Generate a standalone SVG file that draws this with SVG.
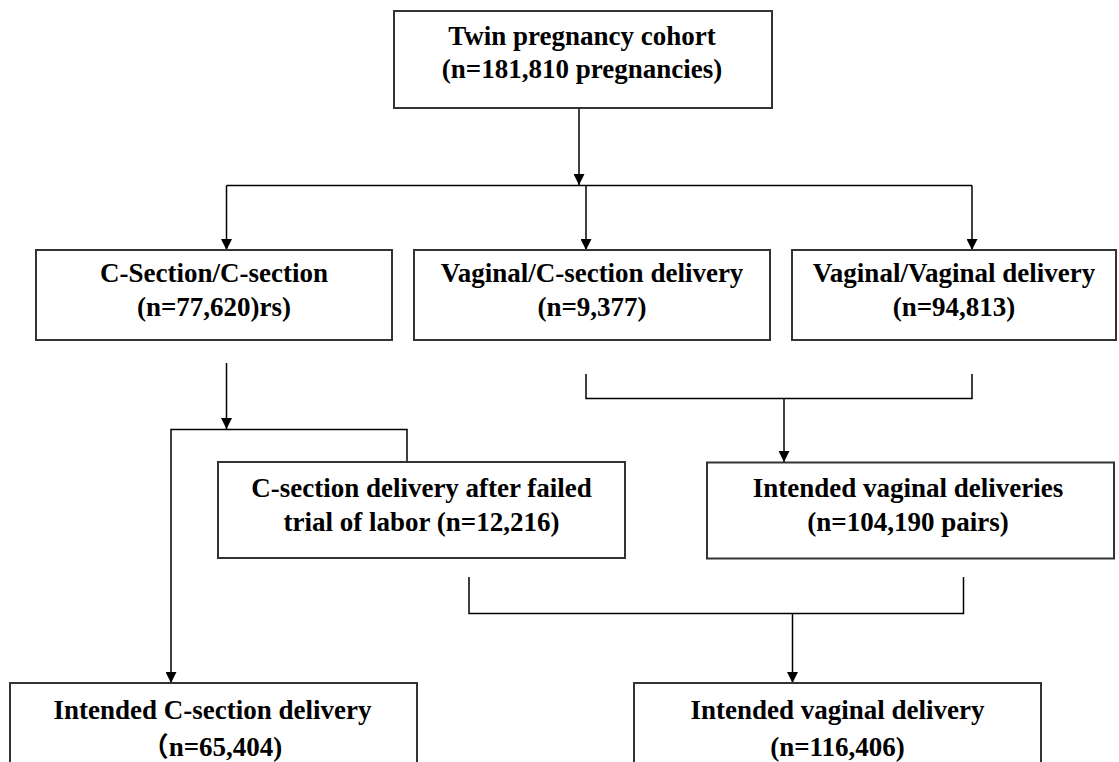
<svg xmlns="http://www.w3.org/2000/svg" width="1119" height="762" viewBox="0 0 1119 762">
<style>
.box{fill:#fff;stroke:#333;stroke-width:2}
.t{font-family:"Liberation Serif","Noto Sans CJK SC",serif;font-weight:bold;font-size:27px;fill:#000;text-anchor:middle}
.ln{fill:none;stroke:#000;stroke-width:1.5}
</style>
<defs>
<marker id="ah" markerWidth="11" markerHeight="11" refX="11" refY="5.5" orient="auto" markerUnits="userSpaceOnUse">
<path d="M0,0 L11,5.5 L0,11 Z" fill="#000"/>
</marker>
</defs>
<rect width="1119" height="762" fill="#fff"/>
<g id="connectors">
<line class="ln" x1="579" y1="108" x2="579" y2="185" marker-end="url(#ah)"/>
<line class="ln" x1="226.5" y1="185.5" x2="972" y2="185.5"/>
<line class="ln" x1="226.5" y1="185.5" x2="226.5" y2="250" marker-end="url(#ah)"/>
<line class="ln" x1="586" y1="185.5" x2="586" y2="250" marker-end="url(#ah)"/>
<line class="ln" x1="972" y1="185.5" x2="972" y2="250" marker-end="url(#ah)"/>
<line class="ln" x1="226.5" y1="363" x2="226.5" y2="429" marker-end="url(#ah)"/>
<polyline class="ln" points="407,462 407,429.5 171,429.5 171,683" marker-end="url(#ah)"/>
<polyline class="ln" points="586,374 586,398.5 972,398.5 972,374"/>
<line class="ln" x1="784" y1="398.5" x2="784" y2="462" marker-end="url(#ah)"/>
<polyline class="ln" points="469,577 469,613.5 963.5,613.5 963.5,577"/>
<line class="ln" x1="792.5" y1="613.5" x2="792.5" y2="683" marker-end="url(#ah)"/>
</g>
<g id="n-cohort">
<rect class="box" x="394" y="11" width="378" height="97"/>
<text class="t" x="582" y="45">Twin pregnancy cohort</text>
<text class="t" x="582" y="78">(n=181,810 pregnancies)</text>
</g>
<g id="n-cc">
<rect class="box" x="36" y="250" width="356" height="90"/>
<text class="t" x="214" y="282">C-Section/C-section</text>
<text class="t" x="214" y="316">(n=77,620)rs)</text>
</g>
<g id="n-vc">
<rect class="box" x="414" y="250" width="356" height="90"/>
<text class="t" x="592" y="282">Vaginal/C-section delivery</text>
<text class="t" x="592" y="316">(n=9,377)</text>
</g>
<g id="n-vv">
<rect class="box" x="792" y="250" width="324" height="90"/>
<text class="t" x="954" y="282">Vaginal/Vaginal delivery</text>
<text class="t" x="954" y="316">(n=94,813)</text>
</g>
<g id="n-failed">
<rect class="box" x="218" y="462" width="407" height="96"/>
<text class="t" x="421.5" y="497">C-section delivery after failed</text>
<text class="t" x="421.5" y="531">trial of labor (n=12,216)</text>
</g>
<g id="n-ivds">
<rect class="box" x="707" y="462.5" width="407" height="96"/>
<text class="t" x="908" y="497">Intended vaginal deliveries</text>
<text class="t" x="908" y="531">(n=104,190 pairs)</text>
</g>
<g id="n-ics">
<rect class="box" x="10" y="683" width="407" height="100"/>
<text class="t" x="212.5" y="719">Intended C-section delivery</text>
<text class="t" x="212" y="756">（n=65,404)</text>
</g>
<g id="n-ivd">
<rect class="box" x="634" y="683" width="407" height="100"/>
<text class="t" x="837.5" y="719">Intended vaginal delivery</text>
<text class="t" x="837.5" y="756">(n=116,406)</text>
</g>
</svg>
